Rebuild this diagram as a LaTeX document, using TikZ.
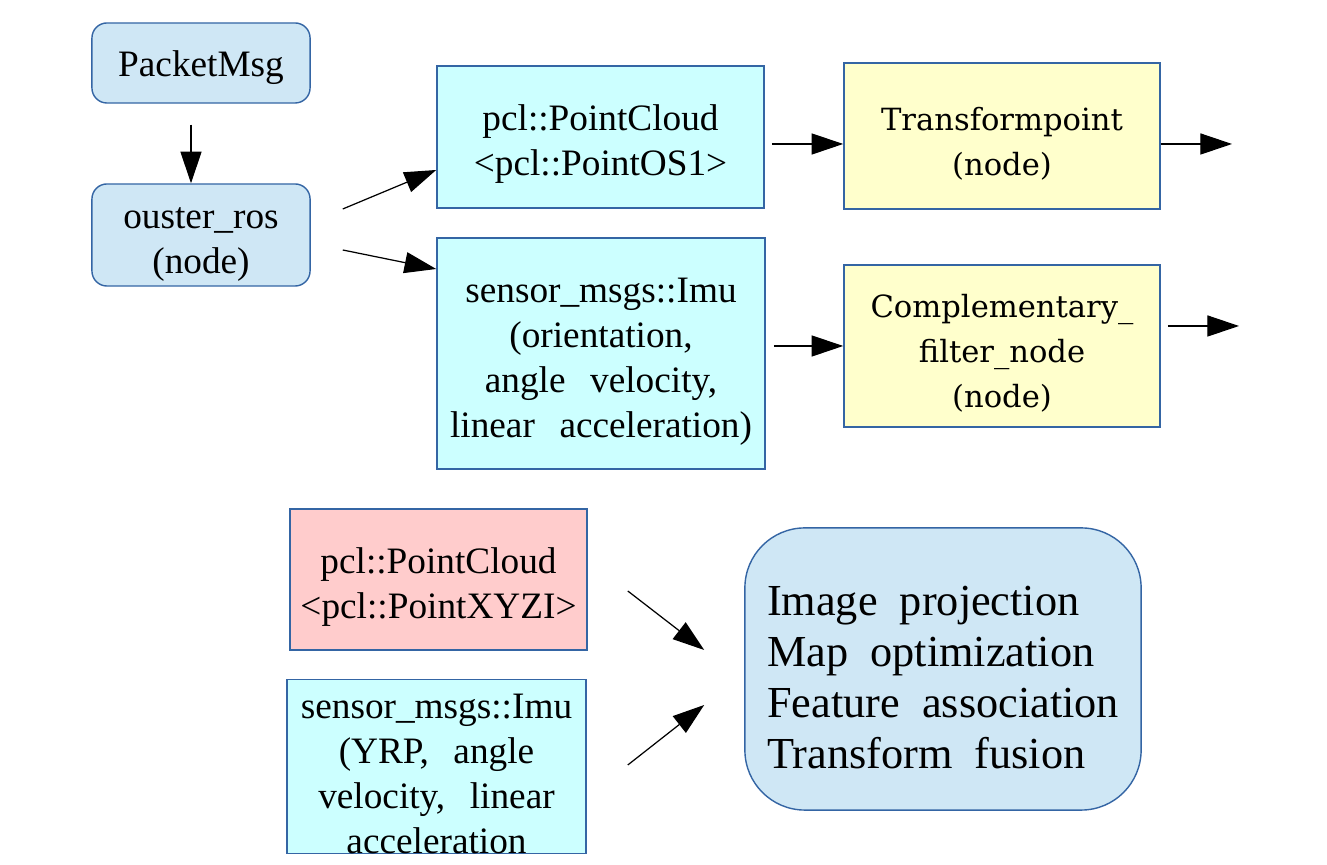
\documentclass[tikz,border=0pt]{standalone}
\usepackage{fontspec}
\setmainfont{Liberation Serif}
\newfontfamily\dejavu{DejaVu Serif}
\usetikzlibrary{arrows.meta,calc}
\definecolor{lineblue}{HTML}{3465A4}
\definecolor{rosblue}{HTML}{CFE7F5}
\definecolor{msgcyan}{HTML}{CCFFFF}
\definecolor{nodeyellow}{HTML}{FFFFCC}
\definecolor{cloudred}{HTML}{FFCCCC}
\newcommand\boxfont{\fontsize{10.6}{12.8}\selectfont\spaceskip=7pt plus 1pt\relax}
\newcommand\liofont{\fontsize{12.6}{14.5}\selectfont\spaceskip=6.3pt plus 1pt\relax}
\newcommand\yellowfont{\dejavu\fontsize{8.7}{12.8}\selectfont}
\newcommand\lift[1]{\rule{0pt}{#1}}
\tikzset{arr/.style={-{Triangle[length=9pt,width=6pt]},line width=0.35pt}}

\begin{document}
\begin{tikzpicture}[x=0.01cm,y=-0.01cm]
            \useasboundingbox (0,0) rectangle (1327,865);
            \begin{scope}[every node/.style={draw=lineblue,line width=0.4pt,align=center,inner sep=0pt,font=\boxfont}]
                \node (packet)[fill=rosblue,rounded corners=0.15cm,minimum width=2.18cm,minimum height=0.8cm] at (201,63) {\lift{10pt}PacketMsg};
                \node (ouster)[fill=rosblue,rounded corners=0.15cm,minimum width=2.18cm,minimum height=1.02cm] at (201,235) {\lift{11.5pt}ouster\_ros\\(node)};
                \node (pclos)[fill=msgcyan,minimum width=3.27cm,minimum height=1.42cm] at (600.5,137) {\lift{11.5pt}pcl::PointCloud\\<pcl::PointOS1>};
                \node (imu)[fill=msgcyan,minimum width=3.28cm,minimum height=2.31cm] at (601,353.5) {\lift{11.5pt}sensor\_msgs::Imu\\(orientation,\\angle velocity,\\linear acceleration)};
                \node (tfp)[fill=nodeyellow,minimum width=3.16cm,minimum height=1.46cm,font=\yellowfont] at (1002,136) {\lift{11pt}Transformpoint\\(node)};
                \node (comp)[fill=nodeyellow,minimum width=3.16cm,minimum height=1.62cm,font=\yellowfont] at (1002,346) {\lift{11pt}Complementary\_\\filter\_node\\(node)};
                \node (pclxyz)[fill=cloudred,minimum width=2.97cm,minimum height=1.41cm] at (438.5,579.5) {\lift{11.5pt}pcl::PointCloud\\<pcl::PointXYZI>};
                \node (imu2)[fill=msgcyan,minimum width=2.99cm,minimum height=1.73cm] at (436.5,766.5) {\lift{11pt}sensor\_msgs::Imu\\(YRP, angle\\velocity, linear\\acceleration};
                \node (lio)[fill=rosblue,rounded corners=0.6cm,minimum width=3.96cm,minimum height=2.82cm,align=left,
                    font=\liofont] at (943,669) {\lift{13pt}Image projection\\Map optimization\\Feature association\\Transform fusion};
            \end{scope}

            \coordinate (tfpout) at (1232,144);
            \coordinate (compout) at (1239,326);

            \begin{scope}
                \path [arr] ($(packet.south)+(-10,21)$) edge ($(ouster.north)+(-10,0)$);
                \path [arr] ($(ouster.east)+(32,-26)$) edge ($(pclos.west)+(0,33)$);
                \path [arr] ($(ouster.east)+(32,15)$) edge ($(imu.west)+(0,-84.5)$);
                \path [arr] ($(pclos.east)+(7,7)$) edge ($(tfp.west)+(0,8)$);
                \path [arr] ($(tfp.east)+(0,8)$) edge (tfpout);
                \path [arr] ($(imu.east)+(8,-7.5)$) edge (comp.west);
                \path [arr] ($(comp.east)+(7,-20)$) edge (compout);
                \path [arr] ($(pclxyz.east)+(40,11.5)$) edge ($(lio.west)+(-40,-19)$);
                \path [arr] ($(imu2.east)+(41,-1.5)$) edge ($(lio.west)+(-40,36)$);
            \end{scope}
            \end{tikzpicture}
\end{document}
